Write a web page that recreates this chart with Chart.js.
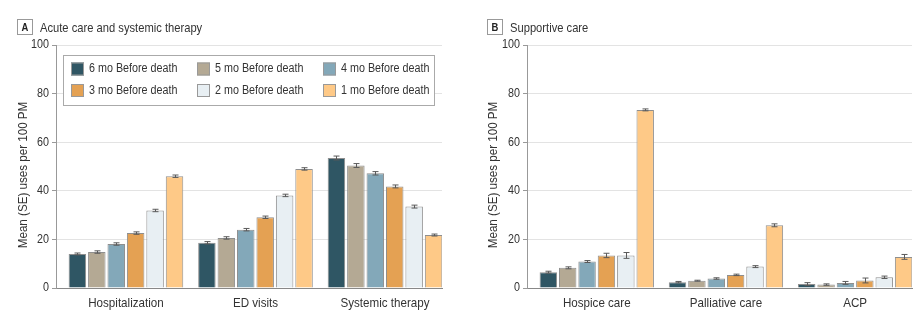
<!DOCTYPE html>
<html>
<head>
<meta charset="utf-8">
<script src="https://cdn.jsdelivr.net/npm/chart.js@4"></script>
<style>
  html, body { margin: 0; padding: 0; background: #fff; }
  #wrap { position: relative; width: 922px; height: 331px; }
  .panel { position: absolute; top: 0; height: 331px; }
  #pa { left: 0; width: 460px; }
  #pb { left: 460px; width: 462px; }
</style>
</head>
<body>
<div id="wrap">
  <div class="panel" id="pa"><canvas id="chartA"></canvas></div>
  <div class="panel" id="pb"><canvas id="chartB"></canvas></div>
</div>
<script>
// Months before death (series)
const seriesLabels = ['6 mo Before death', '5 mo Before death', '4 mo Before death',
                      '3 mo Before death', '2 mo Before death', '1 mo Before death'];
const seriesColors = ['#2f5664', '#b4a994', '#83a8b9', '#e4a153', '#e8eff3', '#fec987'];

// Panel A: acute care and systemic therapy
const catsA = ['Hospitalization', 'ED visits', 'Systemic therapy'];
// mean uses per 100 PM, one array per month, ordered by category
const meanA = [
  [14.0, 18.6, 53.5],
  [14.8, 20.6, 50.4],
  [18.1, 24.0, 47.2],
  [22.6, 29.1, 41.8],
  [31.9, 38.1, 33.5],
  [46.0, 49.0, 21.8]
];
const seA = [
  [0.4, 0.5, 0.8],
  [0.5, 0.5, 0.8],
  [0.5, 0.5, 0.7],
  [0.5, 0.5, 0.6],
  [0.5, 0.5, 0.6],
  [0.5, 0.5, 0.4]
];

// Panel B: supportive care
const catsB = ['Hospice care', 'Palliative care', 'ACP'];
const meanB = [
  [6.5, 2.4, 1.6],
  [8.3, 3.0, 1.4],
  [10.9, 3.9, 2.1],
  [13.4, 5.4, 3.1],
  [13.4, 8.8, 4.4],
  [73.3, 25.8, 12.8]
];
const seB = [
  [0.4, 0.3, 0.6],
  [0.4, 0.2, 0.3],
  [0.4, 0.3, 0.6],
  [0.9, 0.3, 1.0],
  [1.2, 0.4, 0.5],
  [0.4, 0.6, 1.0]
];

const yTicks = [0, 20, 40, 60, 80, 100];
const yTitle = 'Mean (SE) uses per 100 PM';

const FONT = '"Liberation Sans", Arial, sans-serif';
const TEXT_SQUEEZE = 0.86;   // narrow letterforms, like a condensed face
Chart.defaults.font.family = FONT;
Chart.defaults.color = '#333';

// Condensed text: squeeze every label horizontally around its anchor
const condensedText = {
  id: 'condensedText',
  beforeInit(chart) {
    const ctx = chart.ctx;
    const fill = ctx.fillText.bind(ctx);
    ctx.fillText = function (text, x, y, maxWidth) {
      ctx.save();
      ctx.translate(x, y);
      ctx.scale(TEXT_SQUEEZE, 1);
      if (maxWidth === undefined) fill(text, 0, 0);
      else fill(text, 0, 0, maxWidth / TEXT_SQUEEZE);
      ctx.restore();
    };
  }
};

// Whiskers for the standard errors
const errorBars = {
  id: 'errorBars',
  afterDatasetsDraw(chart) {
    const ctx = chart.ctx;
    const y = chart.scales.y;
    ctx.save();
    ctx.strokeStyle = '#5a5a5a';
    ctx.lineWidth = 1;
    chart.data.datasets.forEach((ds, i) => {
      const meta = chart.getDatasetMeta(i);
      meta.data.forEach((bar, j) => {
        const v = ds.data[j].y, e = ds.se[j];
        const x = Math.round(bar.x) + 0.5;
        const yHi = y.getPixelForValue(v + e);
        const yLo = y.getPixelForValue(v - e);
        ctx.beginPath();
        ctx.moveTo(x, yHi); ctx.lineTo(x, yLo);
        ctx.moveTo(x - 3, yHi); ctx.lineTo(x + 3, yHi);
        ctx.moveTo(x - 3, yLo); ctx.lineTo(x + 3, yLo);
        ctx.stroke();
      });
    });
    ctx.restore();
  }
};

// Panel heading (boxed letter + name) and the rotated value-axis title
const panelHeading = {
  id: 'panelHeading',
  afterDraw(chart, args, opts) {
    const ctx = chart.ctx;
    ctx.save();
    ctx.strokeStyle = '#999';
    ctx.lineWidth = 1;
    ctx.strokeRect(opts.x + 0.5, 19.5, 15, 15);
    ctx.fillStyle = '#222';
    ctx.font = 'bold 11px ' + FONT;
    ctx.textAlign = 'center';
    ctx.textBaseline = 'middle';
    ctx.fillText(opts.letter, opts.x + 8, 27.5);
    ctx.font = '13px ' + FONT;
    ctx.textAlign = 'left';
    ctx.fillStyle = '#333';
    ctx.fillText(opts.text, opts.x + 23, 28);

    ctx.translate(opts.titleX, 175);
    ctx.rotate(-Math.PI / 2);
    ctx.font = '13.5px ' + FONT;
    ctx.textAlign = 'center';
    ctx.fillText(yTitle, 0, 0);
    ctx.restore();
  }
};

// Boxed legend inside the plot area (two rows of three)
const boxedLegend = {
  id: 'boxedLegend',
  afterDraw(chart, args, opts) {
    if (!opts.show) return;
    const ctx = chart.ctx;
    const a = chart.chartArea;
    const bx = a.left + 7, by = a.top + 10, bw = 371, bh = 50;
    ctx.save();
    ctx.fillStyle = '#fff';
    ctx.fillRect(bx, by, bw, bh);
    ctx.strokeStyle = '#aaa';
    ctx.lineWidth = 1;
    ctx.strokeRect(bx + 0.5, by + 0.5, bw, bh);
    ctx.font = '12.5px ' + FONT;
    ctx.textBaseline = 'middle';
    chart.data.datasets.forEach((ds, i) => {
      const col = i % 3, row = Math.floor(i / 3);
      const sx = bx + 8 + col * 126;
      const cy = by + 14 + row * 21.5;
      ctx.fillStyle = ds.backgroundColor;
      ctx.fillRect(sx, cy - 6.5, 13, 13);
      ctx.strokeStyle = '#999';
      ctx.strokeRect(sx + 0.5, cy - 6, 12, 12);
      ctx.fillStyle = '#333';
      ctx.fillText(ds.label, sx + 18, cy);
    });
    ctx.restore();
  }
};

function buildDatasets(means, ses) {
  return seriesLabels.map((lab, i) => ({
    label: lab,
    data: means[i].map((v, k) => ({ x: k, y: v })),
    se: ses[i],
    backgroundColor: seriesColors[i],
    borderColor: '#8f8f8f',
    borderWidth: 1,
    barPercentage: 0.9,
    categoryPercentage: 0.9
  }));
}

function makeChart(id, cats, means, ses, axisWidth, rightPad, heading) {
  return new Chart(document.getElementById(id), {
    type: 'bar',
    data: { datasets: buildDatasets(means, ses) },
    options: {
      responsive: true,
      maintainAspectRatio: false,
      animation: false,
      layout: { padding: { left: 0, right: rightPad, top: 45, bottom: 0 } },
      plugins: {
        legend: { display: false },
        tooltip: { enabled: false },
        panelHeading: heading,
        boxedLegend: { show: heading.letter === 'A' }
      },
      scales: {
        x: {
          type: 'linear',
          offset: false,
          min: -0.54, max: 2.44,
          afterBuildTicks(s) { s.ticks = cats.map((c, k) => ({ value: k })); },
          grid: { display: false, drawTicks: false },
          border: { color: '#888', width: 1 },
          ticks: {
            padding: 7, color: '#333', font: { size: 13.5 },
            callback: (v) => cats[v]
          },
          afterFit(s) { s.height = 43; }
        },
        y: {
          min: 0, max: 100,
          afterBuildTicks(s) { s.ticks = yTicks.map(v => ({ value: v })); },
          grid: { color: '#e3e3e3', tickColor: '#999', tickLength: 4 },
          border: { color: '#999', width: 1 },
          ticks: { padding: 3, color: '#333', font: { size: 12.5 } },
          afterFit(s) { s.width = axisWidth; }
        }
      }
    },
    plugins: [condensedText, errorBars, panelHeading, boxedLegend]
  });
}

makeChart('chartA', catsA, meanA, seA, 56, 18,
  { letter: 'A', text: 'Acute care and systemic therapy', x: 17, titleX: 23 });
makeChart('chartB', catsB, meanB, seB, 67, 10,
  { letter: 'B', text: 'Supportive care', x: 27, titleX: 33 });
</script>
</body>
</html>
